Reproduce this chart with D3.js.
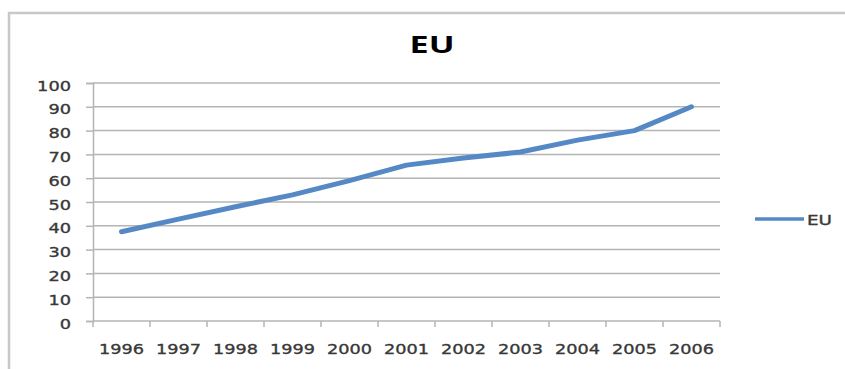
<!DOCTYPE html>
<html>
<head>
<meta charset="utf-8">
<script src="https://cdn.jsdelivr.net/npm/d3@7"></script>
<style>
  html, body { margin: 0; padding: 0; background: #fff; }
  svg { display: block; }
  text { font-family: "DejaVu Sans", Verdana, sans-serif; fill: #383838; stroke: #383838; stroke-width: 0.35px; }
</style>
</head>
<body>
<svg id="chart" width="845" height="369"></svg>
<script>
// EU series, 1996–2006
const years = ["1996","1997","1998","1999","2000","2001","2002","2003","2004","2005","2006"];
const euValues = [37.5, 42.8, 48, 53, 59, 65.5, 68.5, 71, 76, 80, 90];
const yTicks = [0, 10, 20, 30, 40, 50, 60, 70, 80, 90, 100];
const seriesName = "EU";
const chartTitle = "EU";

const svg = d3.select("#chart");
const W = 845, H = 369;
const plot = { left: 93, right: 720, top: 83, bottom: 321 };
const gridColor = "#b4b4b4";
const lineColor = "#5589c6";

// chart frame (extends past the right and bottom edges)
svg.append("rect")
  .attr("x", 9).attr("y", 13)
  .attr("width", W + 20).attr("height", H + 20)
  .attr("fill", "#fff")
  .attr("stroke", "#c8c8c8").attr("stroke-width", 2.5);

const x = d3.scaleBand().domain(years).range([plot.left, plot.right]);
const y = d3.scaleLinear().domain([0, 100]).range([plot.bottom, plot.top]);

// horizontal gridlines
svg.append("g")
  .selectAll("line").data(yTicks.filter(v => v > 0)).join("line")
  .attr("x1", plot.left).attr("x2", plot.right)
  .attr("y1", d => y(d)).attr("y2", d => y(d))
  .attr("stroke", gridColor).attr("stroke-width", 1.5);

// y axis
const yAxis = svg.append("g")
  .attr("transform", `translate(${plot.left},0)`)
  .call(d3.axisLeft(y).tickValues(yTicks).tickSize(7).tickPadding(0).tickFormat(d3.format("d")));
yAxis.select(".domain").attr("stroke", gridColor).attr("stroke-width", 1.5);
yAxis.selectAll(".tick line").attr("stroke", gridColor).attr("stroke-width", 1.5);
yAxis.selectAll(".tick text").remove();
yAxis.selectAll(".tick").append("text")
  .attr("x", -22).attr("y", 7)
  .attr("text-anchor", "end")
  .style("font-size", "14.5px")
  .attr("textLength", d => String(d).length * 11.3)
  .attr("lengthAdjust", "spacingAndGlyphs")
  .text(d => d);

// x axis with ticks at category boundaries
const xAxisG = svg.append("g");
xAxisG.append("line")
  .attr("x1", plot.left).attr("x2", plot.right)
  .attr("y1", plot.bottom).attr("y2", plot.bottom)
  .attr("stroke", gridColor).attr("stroke-width", 1.5);
const boundaries = years.map(d => x(d)).concat([x(years[years.length - 1]) + x.bandwidth()]);
xAxisG.selectAll("line.tk").data(boundaries).join("line")
  .attr("class", "tk")
  .attr("x1", d => d).attr("x2", d => d)
  .attr("y1", plot.bottom).attr("y2", plot.bottom + 6)
  .attr("stroke", gridColor).attr("stroke-width", 1.5);
xAxisG.selectAll("text").data(years).join("text")
  .attr("x", d => x(d) + x.bandwidth() / 2)
  .attr("y", 354)
  .attr("text-anchor", "middle")
  .style("font-size", "14.5px")
  .attr("textLength", 45)
  .attr("lengthAdjust", "spacingAndGlyphs")
  .text(d => d);

// data line
const line = d3.line()
  .x((d, i) => x(years[i]) + x.bandwidth() / 2)
  .y(d => y(d));
svg.append("path")
  .datum(euValues)
  .attr("d", line)
  .attr("fill", "none")
  .attr("stroke", lineColor)
  .attr("stroke-width", 5)
  .attr("stroke-linejoin", "round")
  .attr("stroke-linecap", "round");

// title
svg.append("text")
  .attr("x", 432).attr("y", 53)
  .attr("text-anchor", "middle")
  .style("font-family", "'Open Sans', sans-serif")
  .style("font-weight", "700")
  .style("font-size", "23px")
  .style("fill", "#000")
  .style("stroke", "none")
  .attr("textLength", 45)
  .attr("lengthAdjust", "spacingAndGlyphs")
  .text(chartTitle);

// legend
const lg = svg.append("g");
lg.append("line")
  .attr("x1", 755).attr("x2", 804)
  .attr("y1", 219).attr("y2", 219)
  .attr("stroke", lineColor).attr("stroke-width", 3.5);
lg.append("text")
  .attr("x", 807).attr("y", 224.5)
  .style("font-size", "14px")
  .attr("textLength", 25)
  .attr("lengthAdjust", "spacingAndGlyphs")
  .text(seriesName);
</script>
</body>
</html>
